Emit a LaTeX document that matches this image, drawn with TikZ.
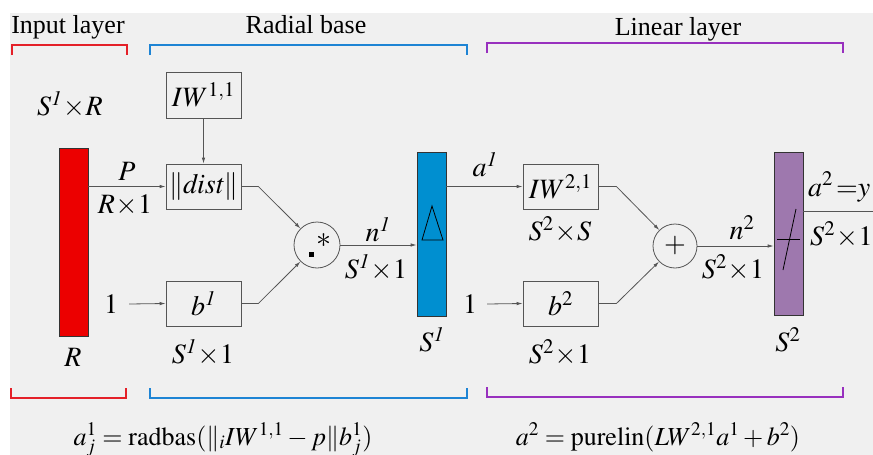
\documentclass[tikz,border=0pt]{standalone}
\usepackage{mathptmx}
\usepackage{fontspec}
\setmainfont{Liberation Serif}
\usetikzlibrary{arrows.meta,calc}
\definecolor{bggray}{RGB}{240,240,240}
\definecolor{linegray}{RGB}{85,85,85}
\definecolor{barred}{RGB}{236,0,0}
\definecolor{barblue}{RGB}{0,143,208}
\definecolor{barpurple}{RGB}{158,120,174}
\definecolor{brred}{RGB}{228,32,40}
\definecolor{brblue}{RGB}{30,132,212}
\definecolor{brpurple}{RGB}{152,48,190}
\tikzset{
  lbl/.style={font=\fontsize{28}{32}\selectfont, inner sep=0pt},
  ttl/.style={font=\fontsize{26}{30}\selectfont, inner sep=0pt, anchor=base},
  frm/.style={font=\fontsize{26}{30}\selectfont, inner sep=0pt, anchor=base},
  wbox/.style={draw=linegray, line width=0.8pt, minimum width=75pt, minimum height=45pt, inner sep=0pt, font=\fontsize{28}{32}\selectfont},
  barbox/.style={draw=black!80, line width=0.7pt, minimum width=29pt, inner sep=0pt},
  opcirc/.style={circle, draw=linegray, line width=0.8pt, minimum size=45pt, inner sep=0pt},
  conn/.style={draw=linegray, line width=0.8pt, -{Latex[length=6pt,width=3.5pt]}},
  plain/.style={draw=linegray, line width=0.8pt},
  bracket/.style={line width=1.2pt},
}
\begin{document}
\begin{tikzpicture}[x=1pt,y=-1pt]
\useasboundingbox (0,0) rectangle (873,455);
\clip (0,0) rectangle (873,455);
\fill[white] (0,0) rectangle (873,455);
\fill[bggray] (10,13) rectangle (873,455);

% titles
\node[ttl] (tin) at (68,33) {Input layer};
\node[ttl] (trad) at (306,33) {Radial base};
\node[ttl] (tlin) at (678,35) {Linear layer};

% brackets top
\draw[bracket, brred] (12,55) -- (12,45) -- (127,45) -- (127,55);
\draw[bracket, brblue] (150,55) -- (150,45) -- (467,45) -- (467,55);
\draw[bracket, brpurple] (487,53) -- (487,43) -- (843,43) -- (843,53);
% brackets bottom
\draw[bracket, brred] (11,388) -- (11,398) -- (126,398) -- (126,388);
\draw[bracket, brblue] (150,388) -- (150,398) -- (467,398) -- (467,388);
\draw[bracket, brpurple] (487,387) -- (487,397) -- (843,397) -- (843,387);

% bars
\node[barbox, fill=barred, minimum height=188pt] (rbar) at (73.5,242) {};
\node[barbox, fill=barblue, minimum height=164pt] (bbar) at (431.5,234) {};
\node[barbox, fill=barpurple, minimum height=163pt] (pbar) at (788.5,233.5) {};

% boxes
\node[wbox, minimum height=46pt] (iw11) at (203.5,95) {$IW^{1,1}$};
\node[wbox] (dist) at (203.5,186.5) {$\Vert\mathit{dist}\Vert$};
\node[wbox] (b1) at (203.5,303.5) {$b^{\mathit{1}}$};
\node[wbox] (iw21) at (560.5,186.5) {$IW^{2,1}$};
\node[wbox] (b2) at (560.5,303.5) {$b^{2}$};

% operators
\node[opcirc, minimum size=46pt] (c1) at (317,245) {};
\node[opcirc, minimum size=44pt] (c2) at (675,246) {};
\node[font=\fontsize{30}{32}\selectfont, inner sep=0pt] (star) at (323.5,241) {$*$};
\fill (308.5,251.5) rectangle (313.5,256.5);
\node[font=\fontsize{28}{32}\selectfont, inner sep=0pt] (plus) at (675,246) {$+$};

% symbols in bars
\draw[black, line width=0.8pt] (422,240) -- (432,206) -- (443,240) -- cycle;
\draw[black, line width=0.8pt] (777,239) -- (800,239);
\draw[black, line width=0.8pt] (783,270) -- (796,209);

% inputs
\node[lbl] (one1) at (111,304) {$1$};
\node[lbl] (one2) at (470,304) {$1$};
\coordinate (yout) at (873,211);

% connectors
\draw[conn] (iw11.south) -- (dist.north);
\draw[conn] (rbar.east |- dist.west) -- (dist.west);
\draw[conn] ($(one1.east)+(11,0)$) -- (b1.west);
\draw[conn] (dist.east) -- ++(17,0) -- (c1);
\draw[conn] (b1.east) -- ++(17,0) -- (c1);
\draw[conn] (c1.east) -- (c1.east -| bbar.west);
\draw[conn] (bbar.east |- iw21.west) -- (iw21.west);
\draw[conn] ($(one2.east)+(10,0)$) -- (b2.west);
\draw[conn] (iw21.east) -- ++(18,0) -- (c2);
\draw[conn] (b2.east) -- ++(18,0) -- (c2);
\draw[conn] (c2.east) -- (c2.east -| pbar.west);
\draw[plain] (pbar.east |- yout) -- (yout);

% labels
\node[lbl] (s1r) at (70,105) {$S^{\mathit{1}}\!\times\! R$};
\node[lbl] (lp) at (127,171) {$P$};
\node[lbl] (lr1) at (125,205) {$R\!\times\! 1$};
\node[lbl] (lr) at (73,357) {$R$};
\node[lbl] (ls11a) at (203,353) {$S^{\mathit{1}}\!\times\! 1$};
\node[lbl] (ln1) at (378,230) {$n^{\mathit{1}}$};
\node[lbl] (ls11b) at (376,268) {$S^{\mathit{1}}\!\times\! 1$};
\node[lbl] (ls1) at (432,340) {$S^{\mathit{1}}$};
\node[lbl] (la1) at (485,165) {$a^{\mathit{1}}$};
\node[lbl] (ls2s) at (560,230) {$S^{2}\!\times\! S$};
\node[lbl] (ls21a) at (560,353) {$S^{2}\!\times\! 1$};
\node[lbl] (ln2) at (742,228) {$n^{2}$};
\node[lbl] (ls21b) at (733,268) {$S^{2}\!\times\! 1$};
\node[lbl] (ls2) at (788,340) {$S^{2}$};
\node[lbl, anchor=west] (la2) at (808,187) {$a^{2}\,{=}y$};
\node[lbl, anchor=west] (ls21c) at (810,235) {$S^{2}\!\times\! 1$};

% formulas
\node[frm] (f1) at (223,445) {$a^{1}_{j}=\mathrm{radbas}(\Vert_{i}IW^{1,1}-p\Vert b^{1}_{j})$};
\node[frm] (f2) at (658,445) {$a^{2}=\mathrm{purelin}(LW^{2,1}a^{1}+b^{2})$};
\end{tikzpicture}
\end{document}
